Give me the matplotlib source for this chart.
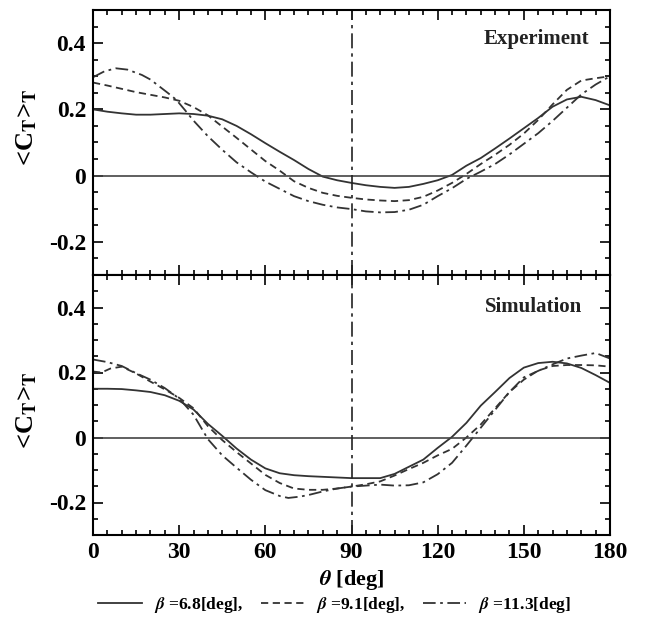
import matplotlib
matplotlib.use("Agg")
import matplotlib.pyplot as plt
import matplotlib.ticker as mticker

plt.rcParams.update({
    "font.family":        "Liberation Serif",
    "font.weight":        "bold",
    "mathtext.fontset":   "stix",
    "axes.unicode_minus": False,
})

# ---- datos ----
theta_exp_68 = [0, 5, 10, 15, 20, 25, 30, 35, 40, 45, 50, 55, 60, 65, 70, 75, 80, 85, 90,
                95, 100, 105, 110, 115, 120, 125, 130, 135, 140, 145, 150, 155, 160, 165,
                170, 175, 180]
exp_68 = [0.200, 0.193, 0.188, 0.184, 0.184, 0.186, 0.188, 0.186, 0.181, 0.170, 0.150,
          0.125, 0.098, 0.072, 0.047, 0.020, -0.003, -0.014, -0.022, -0.029, -0.034,
          -0.037, -0.034, -0.025, -0.014, 0.002, 0.030, 0.053, 0.082, 0.112, 0.143,
          0.174, 0.208, 0.230, 0.238, 0.228, 0.212]

theta_exp_91 = [0, 5, 10, 15, 20, 25, 30, 35, 40, 45, 50, 55, 60, 65, 70, 75, 80, 85, 90,
                95, 100, 105, 110, 115, 120, 125, 130, 135, 140, 145, 150, 155, 160, 165,
                170, 175, 180]
exp_91 = [0.281, 0.272, 0.262, 0.252, 0.244, 0.236, 0.226, 0.207, 0.182, 0.148, 0.114,
          0.079, 0.044, 0.015, -0.017, -0.037, -0.052, -0.061, -0.067, -0.072, -0.075,
          -0.077, -0.074, -0.064, -0.045, -0.022, 0.005, 0.035, 0.063, 0.093, 0.127,
          0.168, 0.215, 0.259, 0.287, 0.294, 0.300]

theta_exp_113 = [0, 4, 8, 12, 17, 20, 23, 26, 29, 32, 35, 40, 45, 50, 55, 60, 65, 70, 75,
                 80, 85, 90, 95, 100, 105, 110, 115, 120, 125, 130, 135, 140, 145, 150,
                 155, 160, 165, 170, 175, 180]
exp_113 = [0.297, 0.315, 0.324, 0.320, 0.304, 0.290, 0.270, 0.250, 0.229, 0.198, 0.166,
           0.119, 0.078, 0.040, 0.010, -0.018, -0.040, -0.062, -0.077, -0.088, -0.096,
           -0.101, -0.108, -0.111, -0.110, -0.103, -0.088, -0.062, -0.038, -0.010, 0.012,
           0.035, 0.064, 0.096, 0.128, 0.165, 0.205, 0.245, 0.275, 0.300]

theta_sim_68 = [0, 5, 10, 15, 20, 25, 30, 35, 40, 45, 50, 55, 60, 65, 70, 75, 80, 85, 90,
                95, 100, 105, 110, 115, 120, 125, 130, 135, 140, 145, 150, 155, 160, 165,
                170, 175, 180]
sim_68 = [0.150, 0.150, 0.149, 0.145, 0.140, 0.130, 0.113, 0.086, 0.042, 0.005, -0.034,
          -0.068, -0.095, -0.110, -0.116, -0.119, -0.121, -0.123, -0.125, -0.125, -0.125,
          -0.112, -0.090, -0.068, -0.032, 0.002, 0.045, 0.098, 0.140, 0.183, 0.215,
          0.229, 0.233, 0.228, 0.214, 0.192, 0.168]

theta_sim_91 = [0, 3, 6, 10, 15, 20, 25, 30, 35, 40, 45, 50, 55, 60, 65, 70, 75, 80, 85,
                90, 95, 100, 105, 110, 115, 120, 125, 130, 135, 140, 145, 150, 155, 160,
                165, 170, 175, 180]
sim_91 = [0.203, 0.200, 0.212, 0.218, 0.197, 0.172, 0.148, 0.122, 0.090, 0.035, -0.008,
          -0.045, -0.080, -0.115, -0.140, -0.157, -0.161, -0.161, -0.157, -0.151, -0.144,
          -0.135, -0.117, -0.097, -0.078, -0.055, -0.035, 0.000, 0.040, 0.090, 0.140,
          0.178, 0.206, 0.220, 0.223, 0.223, 0.222, 0.218]

theta_sim_113 = [0, 5, 10, 15, 20, 25, 30, 35, 40, 45, 50, 55, 60, 65, 68, 72, 75, 80,
                 85, 90, 95, 100, 105, 110, 115, 120, 125, 130, 135, 140, 145, 150, 155,
                 160, 165, 170, 175, 180]
sim_113 = [0.240, 0.232, 0.220, 0.198, 0.178, 0.152, 0.120, 0.070, -0.005, -0.055, -0.093,
           -0.130, -0.162, -0.180, -0.186, -0.182, -0.177, -0.166, -0.157, -0.151, -0.148,
           -0.145, -0.148, -0.147, -0.138, -0.113, -0.078, -0.025, 0.030, 0.085, 0.140,
           0.185, 0.205, 0.225, 0.243, 0.252, 0.260, 0.243]

xticks = [0, 30, 60, 90, 120, 150, 180]
yticks = [-0.2, 0, 0.2, 0.4]
leyenda = [r"$\beta$ =6.8[deg],", r"$\beta$ =9.1[deg],", r"$\beta$ =11.3[deg]"]

# ---- estilos ----
COLOR = "#333333"
ESTILOS = ["-", (0, (4, 2.5)), (0, (7, 2.5, 1.5, 2.5))]

fig = plt.figure(figsize=(6.48, 6.23), dpi=100, facecolor="white")
W, H = 648, 623
ax1 = fig.add_axes([93 / W, 1 - 275 / H, 517 / W, 265 / H])
ax2 = fig.add_axes([93 / W, 1 - 535 / H, 517 / W, 260 / H])

paneles = [
    (ax1, "Experiment", [(theta_exp_68, exp_68), (theta_exp_91, exp_91), (theta_exp_113, exp_113)], 0.872, 0.555),
    (ax2, "Simulation", [(theta_sim_68, sim_68), (theta_sim_91, sim_91), (theta_sim_113, sim_113)], 0.858, 0.48),
]

lineas = []
for ax, titulo, series, ty, ly in paneles:
    for (tx, vals), ls in zip(series, ESTILOS):
        l, = ax.plot(tx, vals, color=COLOR, lw=1.3, linestyle=ls)
        if ax is ax1:
            lineas.append(l)
    ax.axhline(0, color="#444444", lw=1.2)
    ax.axvline(90, color="#222222", lw=1.2, linestyle=(0, (9, 3, 2, 3)))

    ax.set_xlim(0, 180)
    ax.set_ylim(-0.3, 0.5)
    ax.set_xticks(xticks)
    ax.set_yticks(yticks)
    ax.xaxis.set_minor_locator(mticker.MultipleLocator(5))
    ax.yaxis.set_minor_locator(mticker.MultipleLocator(0.05))
    ax.yaxis.set_major_formatter(
        mticker.FuncFormatter(lambda y, _: "0" if abs(y) < 1e-9 else f"{y:.1f}"))
    ax.tick_params(which="both", direction="in", top=True, right=True,
                   labelsize=17, width=1.2, pad=5)
    ax.tick_params(which="major", length=7)
    ax.tick_params(which="minor", length=3.5)
    for lbl in ax.get_xticklabels() + ax.get_yticklabels():
        lbl.set_fontweight("bold")
    for s in ax.spines.values():
        s.set_linewidth(1.5)

    ax.set_ylabel(r"<C$_\mathbf{T}$>$_\mathbf{T}$", fontsize=19, fontweight="bold")
    ax.yaxis.set_label_coords(-0.105, ly)
    ax.text(0.96 if ax is ax1 else 0.946, ty, titulo, transform=ax.transAxes,
            ha="right", va="baseline", fontsize=15, fontweight="bold", color="#222222")

ax1.tick_params(labelbottom=False)
ax2.set_xlabel(r"$\theta$ [deg]", fontsize=16, fontweight="bold", labelpad=4)

fig.legend(lineas, leyenda, loc="center", bbox_to_anchor=(335 / W, 1 - 605 / H),
           ncol=3, frameon=False, handlelength=2.5, handletextpad=0.7,
           columnspacing=1.0, prop={"family": "Liberation Serif", "weight": "bold", "size": 12.5})

fig.savefig("out.png", dpi=100)
